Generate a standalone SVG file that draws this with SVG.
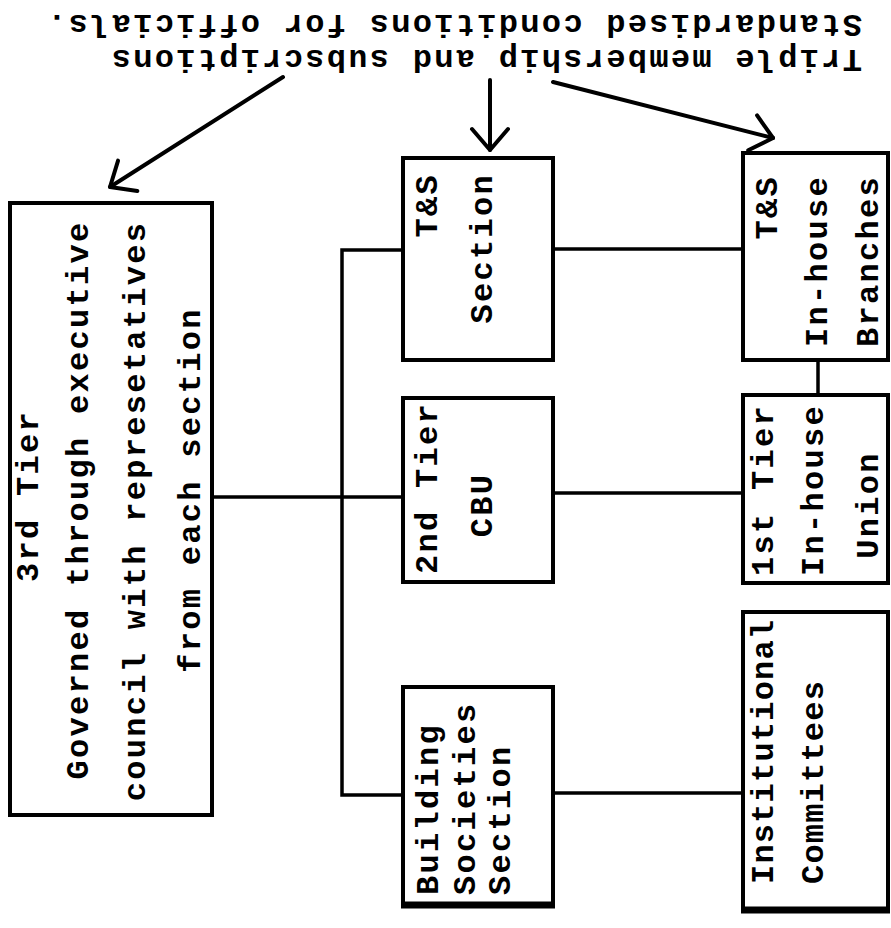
<svg xmlns="http://www.w3.org/2000/svg" width="891" height="928" viewBox="0 0 891 928">
<style>
  .box { fill: #fff; stroke: #000; stroke-width: 4; }
  .edge { stroke: #000; stroke-width: 7; }
  .conn { fill: none; stroke: #000; stroke-width: 3.5; stroke-linecap: square; }
  .arrow { fill: none; stroke: #000; stroke-width: 4; stroke-linecap: round; marker-end: url(#vhead); }
  text { font-family: "Liberation Mono", "DejaVu Sans Mono", monospace; font-weight: bold; font-size: 32px; letter-spacing: 2.3px; fill: #000; }
  .mid { text-anchor: middle; }
  .end { text-anchor: end; }
  .tight { letter-spacing: 1.2px; }
</style>
<defs>
  <marker id="vhead" markerUnits="userSpaceOnUse" viewBox="-24 -21 27 42" markerWidth="27" markerHeight="42" refX="0" refY="0" orient="auto" overflow="visible">
    <path d="M-21,-18 L0,0 L-21,18" fill="none" stroke="#000" stroke-width="4" stroke-linecap="round" stroke-linejoin="round"/>
  </marker>
</defs>

<g id="note">
  <g transform="rotate(180)">
    <text x="-862" y="-50">Triple membership and subscriptions</text>
    <text x="-862" y="-15">Standardised conditions for officials.</text>
  </g>
</g>

<g id="connectors">
  <path class="conn" d="M212,497 L403,497"/>
  <path class="conn" d="M403,250 L342,250 L342,795 L403,795"/>
  <path class="conn" d="M553,249 L743,249"/>
  <path class="conn" d="M553,493 L743,493"/>
  <path class="conn" d="M553,793 L743,793"/>
  <path class="conn" d="M818,360 L818,395"/>
  <path class="arrow" d="M283,77 L110,187"/>
  <path class="arrow" d="M490,80 L490,150"/>
  <path class="arrow" d="M553,82 L773,138"/>
</g>

<g id="tier3">
  <rect class="box" x="10" y="203" width="202" height="612"/>
  <text class="mid" transform="translate(38,496) rotate(-90)">3rd Tier</text>
  <text class="mid" transform="translate(88,500) rotate(-90)">Governed through executive</text>
  <text class="mid" transform="translate(145,511) rotate(-90)">council with represetatives</text>
  <text class="mid" transform="translate(200,490) rotate(-90)">from each section</text>
</g>

<g id="ts-section">
  <rect class="box" x="403" y="158" width="150" height="202"/>
  <text class="end" transform="translate(437,173) rotate(-90)">T&amp;S</text>
  <text class="end" transform="translate(492,173) rotate(-90)">Section</text>
</g>

<g id="cbu">
  <rect class="box" x="403" y="398" width="150" height="184"/>
  <text transform="translate(437,574) rotate(-90)">2nd Tier</text>
  <text class="mid" transform="translate(492,505) rotate(-90)">CBU</text>
</g>

<g id="bs-section">
  <rect class="box" x="403" y="687" width="150" height="218"/>
  <line class="edge" x1="401" y1="905" x2="555" y2="905"/>
  <text transform="translate(438,895) rotate(-90)">Building</text>
  <text transform="translate(475,895) rotate(-90)">Societies</text>
  <text transform="translate(510,895) rotate(-90)">Section</text>
</g>

<g id="ts-branches">
  <rect class="box" x="743" y="153" width="145" height="207"/>
  <text class="end" transform="translate(777,175) rotate(-90)">T&amp;S</text>
  <text class="end" transform="translate(827,175) rotate(-90)">In-house</text>
  <text class="end" transform="translate(878,175) rotate(-90)">Branches</text>
</g>

<g id="tier1">
  <rect class="box" x="743" y="395" width="145" height="188"/>
  <text transform="translate(773,576) rotate(-90)">1st Tier</text>
  <text transform="translate(823,576) rotate(-90)">In-house</text>
  <text class="mid" transform="translate(878,505) rotate(-90)">Union</text>
</g>

<g id="institutional">
  <rect class="box" x="743" y="612" width="145" height="298"/>
  <line class="edge" x1="741" y1="910" x2="890" y2="910"/>
  <text class="tight" transform="translate(773,884) rotate(-90)">Institutional</text>
  <text class="tight" transform="translate(823,884) rotate(-90)">Committees</text>
</g>
</svg>
